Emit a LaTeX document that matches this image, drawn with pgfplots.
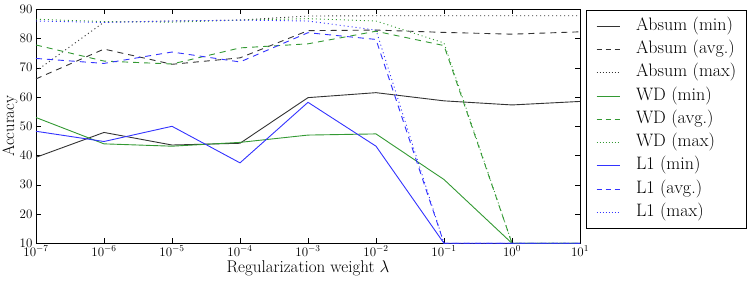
\RequirePackage{fix-cm}
\documentclass[border=0pt]{standalone}
\usepackage{pgfplots}
\pgfplotsset{compat=1.18}
\definecolor{ck}{RGB}{51,51,51}
\definecolor{cg}{RGB}{51,153,51}
\definecolor{cb}{RGB}{51,51,255}
\pgfplotsset{li/.style 2 args={legend image code/.code={\draw[#1,#2,line width=0.9pt] (0pt,0pt) -- (23pt,0pt);}}}
\begin{document}
\begin{tikzpicture}
\begin{axis}[
  scale only axis,
  width=544pt, height=234pt,
  clip mode=individual,
  xmode=log, log basis x=10,
  xmin=1e-7, xmax=10,
  ymin=10, ymax=90,
  ytick={10,20,30,40,50,60,70,80,90},
  xtick={1e-7,1e-6,1e-5,1e-4,1e-3,1e-2,1e-1,1,10},
  tick align=inside,
  major tick length=5pt, minor tick length=3pt,
  ticklabel style={font=\fontsize{13}{15}\selectfont},
  xticklabel style={yshift=1pt},
  xlabel={Regularization weight $\lambda$},
  ylabel={Accuracy},
  every axis x label/.style={at={(axis description cs:0.5,0)}, yshift=-25pt, anchor=center, font=\fontsize{17}{20}\selectfont},
  every axis y label/.style={at={(axis description cs:0,0.5)}, xshift=-26pt, rotate=90, anchor=center, font=\fontsize{16.5}{20}\selectfont},
  axis line style={line width=0.9pt},
  every tick/.style={black, line width=0.5pt},
  legend style={at={(1.0105,0.996)}, anchor=north west, font=\fontsize{18}{21}\selectfont,
    draw=black, line width=0.8pt, inner xsep=10pt, inner ysep=7.7pt,
    row sep=7.25pt, column sep=16pt,
    nodes={inner sep=0pt, text height=12pt, text depth=4pt, anchor=west}},
  every axis plot/.append style={line width=0.9pt},
]
% Absum
\addplot[ck, solid, li={ck}{solid}] coordinates {(1e-7,39.4) (1e-6,47.9) (1e-5,43.6) (1e-4,44.2) (1e-3,59.8) (1e-2,61.5) (1e-1,58.7) (1,57.3) (10,58.5)};
\addlegendentry{Absum (min)}
\addplot[ck, dash pattern=on 6pt off 5pt, li={ck}{dash pattern=on 5pt off 4pt}] coordinates {(1e-7,66.2) (1e-6,76.4) (1e-5,71.2) (1e-4,73.4) (1e-3,82.7) (1e-2,82.9) (1e-1,82.1) (1,81.5) (10,82.3)};
\addlegendentry{Absum (avg.)}
\addplot[ck, dash pattern=on 1pt off 3pt, li={ck}{dash pattern=on 1pt off 2pt}] coordinates {(1e-7,68.9) (1e-6,85.6) (1e-5,86.0) (1e-4,86.3) (1e-3,87.7) (1e-2,87.8) (1e-1,87.8) (1,87.8) (10,87.8)};
\addlegendentry{Absum (max)}
% WD
\addplot[cg, solid, li={cg}{solid}] coordinates {(1e-7,53.0) (1e-6,44.0) (1e-5,43.2) (1e-4,44.5) (1e-3,47.0) (1e-2,47.4) (1e-1,31.8) (1,10) (10,10)};
\addlegendentry{WD (min)}
\addplot[cg, dash pattern=on 6pt off 5pt, li={cg}{dash pattern=on 5pt off 4pt}] coordinates {(1e-7,77.8) (1e-6,72.3) (1e-5,71.3) (1e-4,76.8) (1e-3,78.2) (1e-2,82.5) (1e-1,77.6) (1,10) (10,10)};
\addlegendentry{WD (avg.)}
\addplot[cg, dash pattern=on 1pt off 3pt, li={cg}{dash pattern=on 1pt off 2pt}] coordinates {(1e-7,86.6) (1e-6,85.8) (1e-5,85.6) (1e-4,86.3) (1e-3,86.8) (1e-2,86.0) (1e-1,78.5) (1,10) (10,10)};
\addlegendentry{WD (max)}
% L1
\addplot[cb, solid, li={cb}{solid}] coordinates {(1e-7,48.3) (1e-6,44.8) (1e-5,50.0) (1e-4,37.5) (1e-3,58.2) (1e-2,43.2) (1e-1,10) (1,10) (10,10)};
\addlegendentry{L1 (min)}
\addplot[cb, dash pattern=on 6pt off 5pt, li={cb}{dash pattern=on 5pt off 4pt}] coordinates {(1e-7,73.2) (1e-6,71.5) (1e-5,75.4) (1e-4,72.0) (1e-3,82.0) (1e-2,79.7) (1e-1,10) (1,10) (10,10)};
\addlegendentry{L1 (avg.)}
\addplot[cb, dash pattern=on 1pt off 3pt, li={cb}{dash pattern=on 1pt off 2pt}] coordinates {(1e-7,86.0) (1e-6,85.5) (1e-5,86.0) (1e-4,86.3) (1e-3,86.0) (1e-2,82.9) (1e-1,10) (1,10) (10,10)};
\addlegendentry{L1 (max)}
\path (rel axis cs:0,0) ++(-36pt,-37.7pt) coordinate (bbsw);
\path (rel axis cs:1,1) ++(167pt,9.3pt) coordinate (bbne);
\end{axis}
\pgfresetboundingbox
\path (bbsw) rectangle (bbne);
\end{tikzpicture}
\end{document}
